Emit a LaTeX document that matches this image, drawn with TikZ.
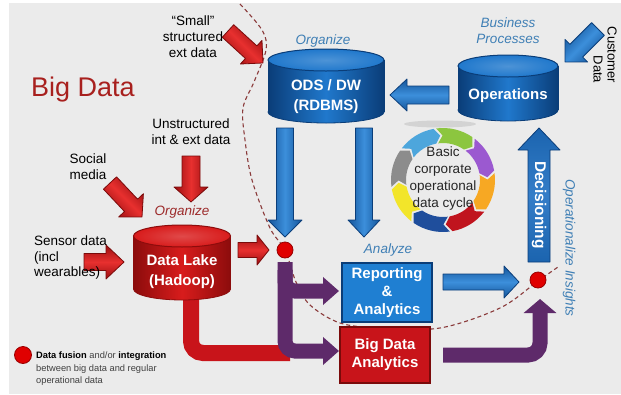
\documentclass[tikz,border=0pt]{standalone}
\usepackage{fontspec}
\setmainfont{Liberation Sans}
\usetikzlibrary{arrows.meta,calc}
\definecolor{bgc}{HTML}{EBEBEB}
\definecolor{arrred}{HTML}{C8141A}
\definecolor{arrreddk}{HTML}{7A0A0A}
\definecolor{arrredlt}{HTML}{E8302F}
\definecolor{cylred}{HTML}{D81C1C}
\definecolor{cylreddk}{HTML}{8C0C0C}
\definecolor{arrblue}{HTML}{1E6FC2}
\definecolor{arrbluedk}{HTML}{0B3E7A}
\definecolor{arrbluelt}{HTML}{3C8FDB}
\definecolor{arrbluemd}{HTML}{15559A}
\definecolor{cylblue}{HTML}{2078CC}
\definecolor{cylbluedk}{HTML}{0A3D78}
\definecolor{boxblue}{HTML}{1F7FD2}
\definecolor{purp}{HTML}{5E2A6A}
\definecolor{lblue}{HTML}{3F7FB5}
\definecolor{orgred}{HTML}{9C2A2A}
\definecolor{bigred}{HTML}{A8201E}
\definecolor{dashc}{HTML}{8A3A3A}
\definecolor{dotred}{HTML}{E00000}
\definecolor{dotdk}{HTML}{9A0000}
\definecolor{cgreen}{HTML}{8CC63F}
\definecolor{cpurple}{HTML}{9B59D0}
\definecolor{corange}{HTML}{F7A823}
\definecolor{cred}{HTML}{C0141E}
\definecolor{cdblue}{HTML}{1F4E9C}
\definecolor{cyellow}{HTML}{F2E52A}
\definecolor{cgray}{HTML}{8C8C8C}
\definecolor{clblue}{HTML}{4DA6DC}

\newcommand\barrow[6][]{%
  \path[#1] let \p1=(#2), \p2=(#3),
     \n1={atan2(\y2-\y1,\x2-\x1)}, \n2={veclen(\x2-\x1,\y2-\y1)} in
    [shift={(\p1)}, rotate=\n1]
    (0pt,-#4pt) -- ({\n2-#6pt},-#4pt) -- ({\n2-#6pt},-#5pt) -- (\n2,0pt)
    -- ({\n2-#6pt},#5pt) -- ({\n2-#6pt},#4pt) -- (0pt,#4pt) -- cycle;}

\newcommand\cyl[7]{%
  \shade[left color=#7, right color=#7, middle color=#6] (#1,#3) ellipse [x radius=#4pt, y radius=#5pt];
  \draw[#7, line width=0.8pt] (#1,#3) ellipse [x radius=#4pt, y radius=#5pt];
  \shade[left color=#7, right color=#7, middle color=#6] ({#1-#4},#2) rectangle ({#1+#4},#3);
  \draw[#7, line width=0.8pt] ({#1-#4},#2) -- ({#1-#4},#3) ({#1+#4},#2) -- ({#1+#4},#3);
  \shade[inner color=#6!80!white, outer color=#6] (#1,#2) ellipse [x radius=#4pt, y radius=#5pt];
  \draw[#7, line width=1pt] (#1,#2) ellipse [x radius=#4pt, y radius=#5pt];}

\begin{document}
\begin{tikzpicture}[x=1pt,y=-1pt,
  lbl/.style={font=\fontsize{13.5}{16}\selectfont, align=center, text=black, inner sep=0pt},
  ital/.style={font=\fontsize{13.5}{16}\selectfont\itshape, align=center, text=lblue, inner sep=0pt},
  cyltext/.style={font=\fontsize{15}{20}\selectfont\bfseries, align=center, text=white, inner sep=0pt},
  redarr/.style={draw=arrreddk, line width=0.8pt, line join=round,
     top color=arrreddk!60!arrred, bottom color=arrreddk!60!arrred, middle color=arrredlt, #1},
  redarr/.default={},
  bluearr/.style={draw=arrbluedk, line width=0.8pt, line join=round,
     top color=arrbluemd, bottom color=arrbluemd, middle color=arrbluelt, #1},
  bluearr/.default={},
  pipe/.style={line width=15pt, purp, rounded corners=10pt},
  dot/.style={circle, fill=dotred, draw=dotdk, line width=0.8pt, minimum size=16pt, inner sep=0pt},
  dashline/.style={dashc, line width=1.1pt, dash pattern=on 4pt off 3pt},
  boxtext/.style={font=\fontsize{15}{18}\selectfont\bfseries, align=center, text=white,
     minimum width=90pt, inner sep=0pt, line width=1.5pt}]
\useasboundingbox (0,0) rectangle (621,394);
\fill[white] (0,0) rectangle (621,394);
\fill[bgc] (9,3) rectangle (621,394);

% dashed boundary
\draw[dashline] plot[smooth, tension=0.55] coordinates {(240,4) (262,30) (266,50) (254,82) (243,108) (245,140) (252,180) (270,228) (285,250) (296,282) (310,305) (340,323) (380,328) (440,328) (500,308) (538,281) (558,267)};

% faint shadow under the cycle
\fill[black, opacity=0.10] (440,124) ellipse [x radius=36pt, y radius=3.5pt];

% coordinates for arrows
\coordinate (a1s) at (228,31);  \coordinate (a1e) at (263,63);
\coordinate (a2s) at (191,156); \coordinate (a2e) at (191,202);
\coordinate (a3s) at (110,183); \coordinate (a3e) at (142,217);
\coordinate (a4s) at (84,262);  \coordinate (a4e) at (124,262);
\coordinate (a5s) at (238,250); \coordinate (a5e) at (269,250);
\coordinate (b1s) at (285,128); \coordinate (b1e) at (285,237);
\coordinate (b2s) at (364,128); \coordinate (b2e) at (364,237);
\coordinate (b3s) at (449,95);  \coordinate (b3e) at (390,95);
\coordinate (b4s) at (598,29);  \coordinate (b4e) at (565,62);
\coordinate (b5s) at (539,262); \coordinate (b5e) at (539,128);
\coordinate (b6s) at (443,282); \coordinate (b6e) at (519,282);

% pipes
\draw[line width=16pt, arrred, rounded corners=12pt] (191,292) |- (290,353);
\draw[pipe, -{Triangle[width=27pt,length=16pt]}] (285,262) |- (339,351);
\draw[pipe, -{Triangle[width=27pt,length=16pt]}] (285,270) |- (339,291);
\draw[pipe, rounded corners=12pt, -{Triangle[width=32pt,length=14pt]}] (443,355) -| (540,299);

% fat arrows
\barrow[redarr={shading angle=-45}]{a1s}{a1e}{8.5}{16}{16}
\barrow[redarr={shading angle=90}]{a2s}{a2e}{9}{17}{15}
\barrow[redarr={shading angle=-45}]{a3s}{a3e}{9}{17}{16}
\barrow[redarr]{a4s}{a4e}{8.5}{17}{18}
\barrow[redarr]{a5s}{a5e}{7.5}{15}{12}
\barrow[bluearr={shading angle=90}]{b1s}{b1e}{8.5}{17}{17}
\barrow[bluearr={shading angle=90}]{b2s}{b2e}{8.5}{16}{17}
\barrow[bluearr]{b3s}{b3e}{9}{16}{17}
\barrow[bluearr={shading angle=45}]{b4s}{b4e}{9}{16}{16}
\barrow[bluearr={shading angle=90, top color=arrblue!90!black, bottom color=arrblue!90!black, middle color=arrblue!90!white}]{b5s}{b5e}{11}{21}{22}
\barrow[bluearr]{b6s}{b6e}{8}{16}{15}

% cylinders
\cyl{182}{236}{289}{48.5}{11}{cylred}{cylreddk}
\cyl{326}{60}{112}{58}{11}{cylblue}{cylbluedk}
\cyl{508}{66}{110}{50}{11}{cylblue}{cylbluedk}
\node[cyltext] (lake) at (182,272) {Data Lake\\(Hadoop)};
\node[cyltext] (ods) at (326,97) {ODS / DW\\(RDBMS)};
\node[cyltext] (ops) at (508,96) {Operations};

% boxes
\node[boxtext, fill=boxblue, draw=cylbluedk, minimum height=59pt] (rep) at (387,292.5) {Reporting\\\&\\Analytics};
\node[boxtext, fill=arrred, draw=arrreddk, minimum height=56pt] (bda) at (385,355) {Big Data\\Analytics};

% cycle
\begin{scope}[shift={(443,180)}]
\foreach \k/\c in {0/cgreen,1/cpurple,2/corange,3/cred,4/cdblue,5/cyellow,6/cgray,7/clblue}{
  \pgfmathsetmacro\s{-97.5+45*\k}
  \pgfmathsetmacro\e{\s+42}
  \fill[\c] (\s:52) arc[start angle=\s, end angle=\e, radius=52] -- ({\e+7}:44.5)
     -- (\e:37) arc[start angle=\e, end angle=\s, radius=37] -- ({\s+7}:44.5) -- cycle;
}
\end{scope}
\node[lbl, font=\fontsize{13.5}{17}\selectfont, text=black!85] (cyc) at (443,179) {Basic\\corporate\\operational\\data cycle};

% dots
\node[dot] (fuse1) at (285,250) {};
\node[dot] (fuse2) at (538,280) {};
\node[dot, minimum size=17pt] (legdot) at (23,355) {};

% texts
\node[font=\fontsize{27}{30}\selectfont, text=bigred, inner sep=0pt] (title) at (83,90) {Big Data};
\node[lbl] (small) at (193,37) {“Small”\\structured\\ext data};
\node[lbl] (unstr) at (191,132) {Unstructured\\int \& ext data};
\node[lbl] (social) at (88,167) {Social\\media};
\node[lbl, align=left, anchor=west, font=\fontsize{13.5}{15.5}\selectfont] (sensor) at (34,258) {Sensor data\\(incl\\wearables)};
\node[ital, text=orgred] (org1) at (182,212) {Organize};
\node[ital] (org2) at (323,41) {Organize};
\node[ital] (bp) at (508,31) {Business\\Processes};
\node[ital] (anl) at (388,250) {Analyze};
\node[lbl, rotate=-90, align=right, font=\fontsize{13}{14}\selectfont] (cust) at (605,55) {Customer\\Data};
\node[font=\fontsize{15.5}{18}\selectfont\bfseries, text=white, rotate=-90, inner sep=0pt] (dec) at (539,205) {Decisioning};
\node[ital, rotate=-90] (opins) at (569,248) {Operationalize Insights};
\node[anchor=west, align=left, inner sep=0pt, text=black!75, font=\fontsize{9.3}{12.5}\selectfont] (leg) at (36,369)
  {\textcolor{black}{\textbf{Data fusion}} and/or \textcolor{black}{\textbf{integration}}\\between big data and regular\\operational data};
\end{tikzpicture}
\end{document}
